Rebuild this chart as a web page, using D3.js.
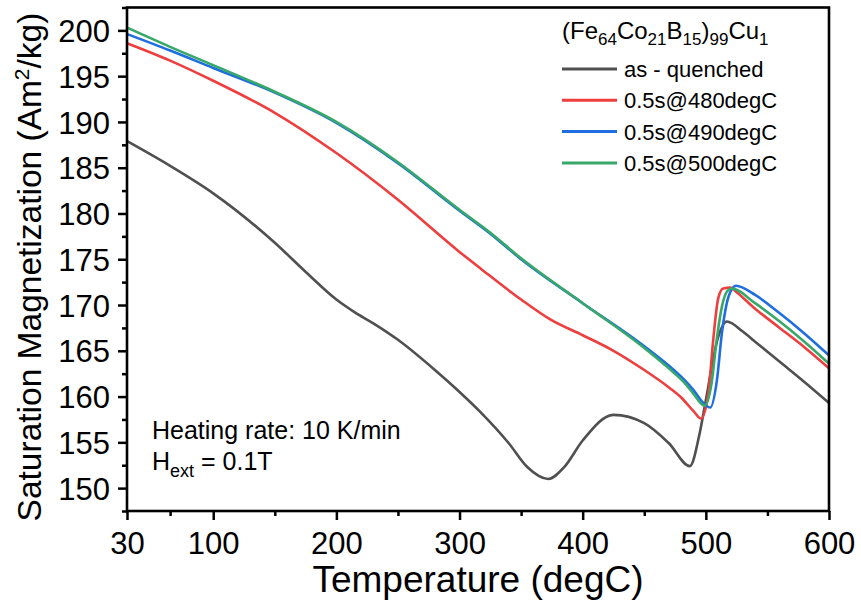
<!DOCTYPE html>
<html>
<head>
<meta charset="utf-8">
<script src="https://cdn.jsdelivr.net/npm/d3@7"></script>
<style>
  body { margin: 0; background: #fff; }
  svg text { font-family: "Liberation Sans", Arial, sans-serif; fill: #000; }
</style>
</head>
<body>
<div id="chart"></div>
<script>
// as-quenched
const tAsq = [30, 65, 100, 150, 176, 200, 215, 230, 250, 280, 300, 317, 340, 355, 372, 385, 400, 425, 450, 470, 487, 495, 500, 510, 517, 530, 540, 560, 580, 600];
const mAsq = [187.9, 185.2, 182.2, 176.8, 173.5, 170.6, 169.2, 168.0, 166.2, 162.9, 160.5, 158.3, 154.9, 152.3, 151.0, 152.3, 155.2, 158.0, 157.1, 154.9, 152.4, 156.0, 159.6, 166.5, 168.2, 167.1, 166.0, 163.8, 161.6, 159.3];
// 0.5s@480degC
const t480 = [30, 65, 100, 150, 200, 250, 300, 317, 350, 374, 400, 425, 450, 470, 480, 490, 496, 502, 506, 510, 514, 520, 525, 540, 560, 580, 600];
const m480 = [198.6, 196.7, 194.5, 191.0, 186.6, 181.5, 175.8, 174.0, 170.6, 168.4, 166.7, 165.0, 162.9, 161.0, 159.9, 158.4, 157.6, 160.3, 166.2, 170.7, 171.8, 171.9, 171.4, 169.6, 167.5, 165.4, 163.1];
// 0.5s@490degC
const t490 = [30, 65, 100, 150, 200, 250, 300, 325, 350, 400, 450, 474, 482, 490, 498, 503.5, 509, 513, 517, 521, 524.5, 540, 560, 580, 600];
const m490 = [199.6, 197.8, 195.9, 193.2, 189.9, 185.5, 180.3, 177.8, 175.0, 170.2, 165.5, 162.9, 161.9, 160.7, 159.3, 158.8, 161.8, 166.9, 170.2, 171.7, 172.1, 171.1, 169.1, 166.9, 164.5];
// 0.5s@500degC
const t500 = [30, 65, 100, 150, 200, 250, 300, 325, 350, 400, 450, 474, 482, 490, 499, 504.7, 508.8, 513, 517.3, 521, 540, 560, 580, 600];
const m500 = [200.3, 198.2, 196.2, 193.3, 190.0, 185.6, 180.4, 177.9, 175.1, 170.2, 165.3, 162.6, 161.6, 160.3, 159.0, 161.5, 166.2, 169.8, 171.5, 171.8, 170.2, 168.2, 166.0, 163.6];

const seriesNames = ["as - quenched", "0.5s@480degC", "0.5s@490degC", "0.5s@500degC"];
const seriesColors = ["#505050", "#ee3e3e", "#1f6ee0", "#38a86a"];
const seriesT = [tAsq, t480, t490, t500];
const seriesM = [mAsq, m480, m490, m500];

const xMajor = [30, 100, 200, 300, 400, 500, 600];
const xMinor = [65, 150, 250, 350, 450, 550];
const yMajor = [150, 155, 160, 165, 170, 175, 180, 185, 190, 195, 200];
const yMinor = [147.5, 152.5, 157.5, 162.5, 167.5, 172.5, 177.5, 182.5, 187.5, 192.5, 197.5, 202.5];

const width = 861, height = 604;
const margin = {top: 7.5, right: 32, bottom: 93, left: 127};

const svg = d3.select("#chart").append("svg")
    .attr("width", width)
    .attr("height", height);

const x = d3.scaleLinear()
    .domain([30, 600])
    .range([margin.left, width - margin.right]);
const y = d3.scaleLinear()
    .domain([147.5, 202.5])
    .range([height - margin.bottom, margin.top]);

// axes
const xAxis = svg.append("g")
    .attr("transform", `translate(0,${height - margin.bottom})`)
    .call(d3.axisBottom(x).tickValues(xMajor).tickSize(9).tickPadding(12).tickSizeOuter(0));
xAxis.selectAll("text").attr("font-size", 31).style("font-family", "Liberation Sans, Arial");
svg.append("g")
    .attr("transform", `translate(0,${height - margin.bottom})`)
    .call(d3.axisBottom(x).tickValues(xMinor).tickSize(5).tickFormat("").tickSizeOuter(0));

const yAxis = svg.append("g")
    .attr("transform", `translate(${margin.left},0)`)
    .call(d3.axisLeft(y).tickValues(yMajor).tickSize(9).tickPadding(8).tickSizeOuter(0));
yAxis.selectAll("text").attr("font-size", 31).attr("dy", "0.36em").style("font-family", "Liberation Sans, Arial");
svg.append("g")
    .attr("transform", `translate(${margin.left},0)`)
    .call(d3.axisLeft(y).tickValues(yMinor).tickSize(5).tickFormat("").tickSizeOuter(0));

svg.selectAll(".domain").remove();
svg.selectAll(".tick line").attr("stroke", "#000").attr("stroke-width", 2.5);

// curves
const line = d3.line()
    .x(d => x(d[0]))
    .y(d => y(d[1]))
    .curve(d3.curveMonotoneX);

const plot = svg.append("g");
seriesNames.forEach((name, i) => {
  const pts = seriesT[i].map((t, j) => [t, seriesM[i][j]]);
  plot.append("path")
    .datum(pts)
    .attr("fill", "none")
    .attr("stroke", seriesColors[i])
    .attr("stroke-width", 2.6)
    .attr("d", line);
});

// frame
svg.append("rect")
    .attr("x", margin.left)
    .attr("y", margin.top)
    .attr("width", width - margin.right - margin.left)
    .attr("height", height - margin.bottom - margin.top)
    .attr("fill", "none")
    .attr("stroke", "#000")
    .attr("stroke-width", 2.6);

// axis titles
svg.append("text")
    .attr("x", 478)
    .attr("y", 592)
    .attr("text-anchor", "middle")
    .attr("font-size", 37)
    .text("Temperature (degC)");

const yt = svg.append("text")
    .attr("transform", `translate(41,267) rotate(-90)`)
    .attr("text-anchor", "middle")
    .attr("font-size", 33.5);
yt.append("tspan").text("Saturation Magnetization (Am");
yt.append("tspan").attr("font-size", 21).attr("dy", -12).text("2");
yt.append("tspan").attr("dy", 12).text("/kg)");

// legend
const legX = 562, legY = 45;
const title = svg.append("text").attr("x", legX).attr("y", legY).attr("font-size", 24);
[["(Fe", null], ["64", "sub"], ["Co", null], ["21", "sub"], ["B", null], ["15", "sub"],
 [")", null], ["99", "sub"], ["Cu", null], ["1", "sub"]].forEach(([s, k]) => {
  if (k === "sub") title.append("tspan").attr("font-size", 17).attr("dy", 6).text(s);
  else title.append("tspan").attr("dy", title.selectAll("tspan").size() ? -6 : 0).text(s);
});

seriesNames.forEach((name, i) => {
  const ly = 69 + i * 31.3;
  svg.append("line")
    .attr("x1", legX).attr("x2", legX + 55)
    .attr("y1", ly).attr("y2", ly)
    .attr("stroke", seriesColors[i])
    .attr("stroke-width", 3);
  svg.append("text")
    .attr("x", legX + 62)
    .attr("y", ly + 8)
    .attr("font-size", 22)
    .text(name);
});

// annotation
svg.append("text")
    .attr("x", 152).attr("y", 439)
    .attr("font-size", 25)
    .text("Heating rate: 10 K/min");
const h = svg.append("text").attr("x", 152).attr("y", 470).attr("font-size", 25);
h.append("tspan").text("H");
h.append("tspan").attr("font-size", 18).attr("dy", 7).text("ext");
h.append("tspan").attr("dy", -7).text(" = 0.1T");
</script>
</body>
</html>
